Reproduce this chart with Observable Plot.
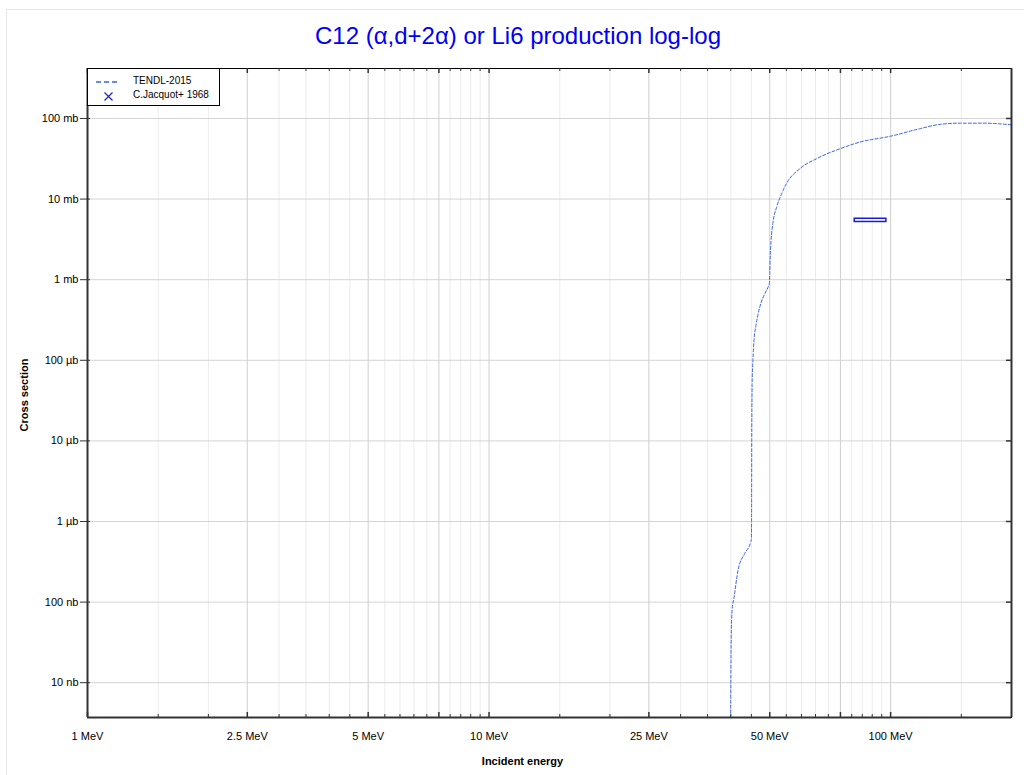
<!DOCTYPE html>
<html>
<head>
<meta charset="utf-8">
<script src="https://cdn.jsdelivr.net/npm/d3@7"></script>
<script src="https://cdn.jsdelivr.net/npm/@observablehq/plot@0.6"></script>
<style>
  html, body { margin: 0; padding: 0; background: #fff; }
  body { font-family: "Liberation Sans", Arial, sans-serif; }
  #wrap { position: relative; width: 1024px; height: 775px; overflow: hidden; }
  #title { position: absolute; left: 0; width: 1036px; top: 22px; text-align: center; font-size: 24px; color: #0000ee; }
  #border { position: absolute; left: 6px; top: 9px; width: 1100px; height: 900px; border-left: 1px solid #e6e6e6; border-top: 1px solid #e6e6e6; }
  #legend { position: absolute; left: 87px; top: 68px; width: 131px; height: 36px; background: #fff; border: 1px solid #000; font-size: 10px; color: #000; }
  #legend .lbl { position: absolute; left: 45px; white-space: nowrap; }
  #xlabel { position: absolute; left: 0; width: 1045px; top: 755px; text-align: center; font-size: 11px; font-weight: bold; }
  #ylabel { position: absolute; left: 24px; top: 395px; transform: translate(-50%, -50%) rotate(-90deg); font-size: 11px; font-weight: bold; white-space: nowrap; }
  svg { position: absolute; left: 0; top: 0; }
</style>
</head>
<body>
<div id="wrap">
  <div id="border"></div>
  <div id="chart"></div>
  <div id="title">C12 (α,d+2α) or Li6 production log-log</div>
  <div id="xlabel">Incident energy</div>
  <div id="ylabel">Cross section</div>
  <div id="legend">
    <svg width="131" height="36" style="position:absolute;left:0;top:0">
      <line x1="8" x2="31" y1="13" y2="13" stroke="#3b63e0" stroke-width="1.5" stroke-dasharray="5,3"></line>
      <path d="M16.5,23.5 L24.5,31.5 M24.5,23.5 L16.5,31.5" stroke="#2020d0" stroke-width="1.2" fill="none"></path>
    </svg>
    <div class="lbl" style="top:6px">TENDL-2015</div>
    <div class="lbl" style="top:20px">C.Jacquot+ 1968</div>
  </div>
</div>
<script>
// ---- data (energy in MeV, cross section in mb) ----
const tendlEnergy = [39.9, 40.0, 40.1, 40.3, 40.7, 41.7, 43.3, 44.8, 45.0, 45.05, 45.1, 45.2, 45.4, 45.7, 46.2, 47.3, 48.6, 49.6, 49.9, 50.0, 50.15, 50.4, 50.9, 52.0, 53.5, 55.0, 59.4, 65.3, 74.7, 83.7, 100, 118, 132, 149, 170, 200];
const tendlXS     = [1e-6, 1e-5, 4e-5, 8e-5, 1.1e-4, 2.5e-4, 4e-4, 5.5e-4, 6e-4, 1e-3, 1e-2, 0.05, 0.1, 0.18, 0.27, 0.47, 0.67, 0.82, 0.9, 1.2, 2.0, 3.1, 5.0, 7.9, 11.6, 15.5, 23.8, 31.6, 42, 50.8, 60.3, 74.5, 84.2, 87.5, 87.5, 83.5];

const jacquotEnergy = [89.5];
const jacquotEnergyErr = [8.1];
const jacquotXS = [5.45];
const jacquotXSErr = [0.25];

const xLabeledTicks = [1, 2.5, 5, 10, 25, 50, 100];
const xTickLabels = ["1 MeV", "2.5 MeV", "5 MeV", "10 MeV", "25 MeV", "50 MeV", "100 MeV"];
const xMajorGrid = [1, 2.5, 5, 7.5, 10, 25, 50, 75, 100];
const xMinorGrid = [1.5, 2, 3, 3.5, 4, 4.5, 5.5, 6, 6.5, 7, 8, 8.5, 9, 9.5, 15, 20, 30, 35, 40, 45, 55, 60, 65, 70, 80, 85, 90, 95, 150];
const yTicks = [1e-5, 1e-4, 1e-3, 1e-2, 1e-1, 1, 10, 100];
const yTickLabels = ["10 nb", "100 nb", "1 µb", "10 µb", "100 µb", "1 mb", "10 mb", "100 mb"];

const xDomain = [1, 200];
const yDomain = [3.70e-6, 417];

// ---- tables ----
const tendl = tendlEnergy.map((e, i) => ({e, xs: tendlXS[i]}));
const jacquot = jacquotEnergy.map((e, i) => ({
  e1: e - jacquotEnergyErr[i], e2: e + jacquotEnergyErr[i],
  s1: jacquotXS[i] - jacquotXSErr[i], s2: jacquotXS[i] + jacquotXSErr[i]
}));
const xLab = new Map(xLabeledTicks.map((t, i) => [t, xTickLabels[i]]));
const yLab = new Map(yTicks.map((t, i) => [t, yTickLabels[i]]));

const H = 775, W = 1024, mTop = 68, mBottom = 58, mLeft = 87, mRight = 13;
const innerH = H - mTop - mBottom;
const innerW = W - mLeft - mRight;

const chart = Plot.plot({
  width: W, height: H,
  marginTop: mTop, marginBottom: mBottom, marginLeft: mLeft, marginRight: mRight,
  style: {fontFamily: "Liberation Sans, Arial, sans-serif", fontSize: "11px", background: "transparent"},
  x: {type: "log", domain: xDomain},
  y: {type: "log", domain: yDomain},
  marks: [
    Plot.ruleX(xMinorGrid, {x: d => d, stroke: "#ececec", strokeWidth: 1}),
    Plot.ruleX(xMajorGrid, {x: d => d, stroke: "#cfcfcf", strokeWidth: 1}),
    Plot.ruleY(yTicks, {y: d => d, stroke: "#d4d4d4", strokeWidth: 1}),
    Plot.line(tendl, {x: "e", y: "xs", stroke: "#3b63e0", strokeWidth: 1, strokeDasharray: "3,2", curve: "monotone-x", clip: true}),
    Plot.rect(jacquot, {x1: "e1", x2: "e2", y1: "s1", y2: "s2", stroke: "#1a1ad0", strokeWidth: 1.5, fill: "none"}),
    Plot.frame({stroke: "#000", strokeWidth: 1}),
    Plot.ruleX([xDomain[0], xDomain[1]], {x: d => d, stroke: "#333", strokeWidth: 2}),
    Plot.ruleY([yDomain[0]], {y: d => d, stroke: "#333", strokeWidth: 2}),
    Plot.tickX(xMinorGrid, {x: d => d, stroke: "#333", insetTop: innerH - 3}),
    Plot.tickX(xMajorGrid, {x: d => d, stroke: "#333", strokeWidth: 1.5, insetTop: innerH - 5}),
    Plot.tickX(xMinorGrid, {x: d => d, stroke: "#333", insetBottom: innerH - 3}),
    Plot.tickX(xMajorGrid, {x: d => d, stroke: "#333", strokeWidth: 1.5, insetBottom: innerH - 5}),
    Plot.tickY(yTicks, {y: d => d, stroke: "#333", strokeWidth: 1.5, insetLeft: innerW - 5}),
    Plot.tickY(yTicks, {y: d => d, stroke: "#333", insetRight: innerW - 3}),
    Plot.axisX(xLabeledTicks, {tickSize: 0, tickPadding: 15, tickFormat: d => xLab.get(d), fontSize: 11, label: null, fill: "#000"}),
    Plot.axisY(yTicks, {tickSize: 7, tickPadding: 2, tickFormat: d => yLab.get(d), fontSize: 11, label: null, stroke: "#333", fill: "#000"})
  ]
});
document.getElementById("chart").appendChild(chart);
</script>
</body>
</html>
